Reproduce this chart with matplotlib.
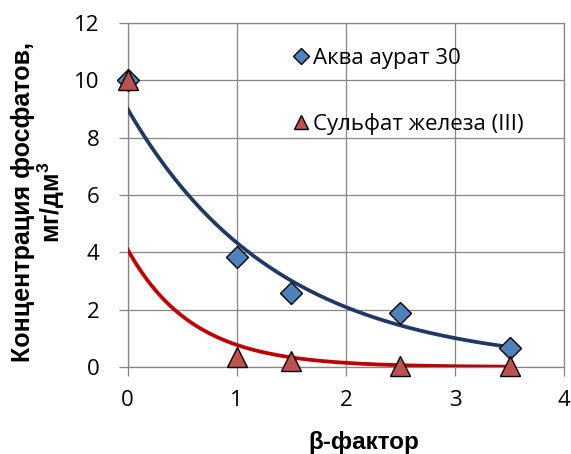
import numpy as np
import matplotlib
matplotlib.use('Agg')
from matplotlib import pyplot as plt

plt.rcParams['mathtext.fontset'] = 'custom'
plt.rcParams['mathtext.bf'] = 'Liberation Sans:bold'
plt.rcParams['mathtext.rm'] = 'Liberation Sans'

# данные
beta = [0, 1, 1.5, 2.5, 3.5]
akva = [10, 3.83, 2.59, 1.87, 0.66]
sulfat = [10, 0.35, 0.2, 0.05, 0.03]

# экспоненциальные линии тренда y = a*exp(-k*x)
akva_a, akva_k = 9.0, 0.73
sulfat_a, sulfat_k = 4.1, 1.67

names = ['Аква аурат 30', 'Сульфат железа (III)']
xticks = [0, 1, 2, 3, 4]
yticks = [0, 2, 4, 6, 8, 10, 12]

grid_c = '#868686'
tick_font = ['Open Sans', 'DejaVu Sans']
label_font = ['Liberation Sans', 'DejaVu Sans']

fig = plt.figure(figsize=(5.71, 4.54), dpi=100)
ax = fig.add_axes([0.2235, 0.1916, 0.7645, 0.7577])

xs = np.linspace(0, 3.5, 200)
ax.plot(xs, akva_a * np.exp(-akva_k * xs), color='#1F3864', lw=2.7, zorder=3)
ax.plot(xs, sulfat_a * np.exp(-sulfat_k * xs), color='#C00000', lw=2.7, zorder=3)

ax.plot(beta, akva, ls='none', marker='D', ms=11, mfc='#4F81BD', mec='black',
        mew=1.0, label=names[0], zorder=4, clip_on=False)
ax.plot(beta, sulfat, ls='none', marker='^', ms=14, mfc='#C0504D', mec='black',
        mew=1.0, label=names[1], zorder=4, clip_on=False)

ax.set_xlim(0, 4)
ax.set_ylim(0, 12)
ax.set_xticks(xticks)
ax.set_yticks(yticks)
ax.grid(True, color=grid_c, lw=0.9)
ax.set_axisbelow(True)
for s in ax.spines.values():
    s.set_color(grid_c)
    s.set_linewidth(0.9)
ax.tick_params(direction='out', length=6.5, width=0.9, color=grid_c,
               labelsize=16)
ax.tick_params(axis='x', pad=10)
ax.tick_params(axis='y', pad=14)
for t in ax.get_xticklabels() + ax.get_yticklabels():
    t.set_family(tick_font)

ax.set_xlabel('β-фактор', fontsize=17.5, fontweight='bold', family=label_font)
ax.xaxis.set_label_coords(0.542, -0.186)
ax.set_ylabel('Концентрация фосфатов,\nмг/дм$^\\mathbf{3}$', fontsize=18,
              fontweight='bold', family=label_font, linespacing=1.0)
ax.yaxis.set_label_coords(-0.14, 0.48)

leg = ax.legend(loc='upper left', bbox_to_anchor=(0.33, 0.985), frameon=False,
                numpoints=1, markerscale=0.75, handlelength=0.8,
                handletextpad=0.15, labelspacing=1.95,
                prop={'family': tick_font, 'size': 16})

fig.savefig('out.png', dpi=100)
